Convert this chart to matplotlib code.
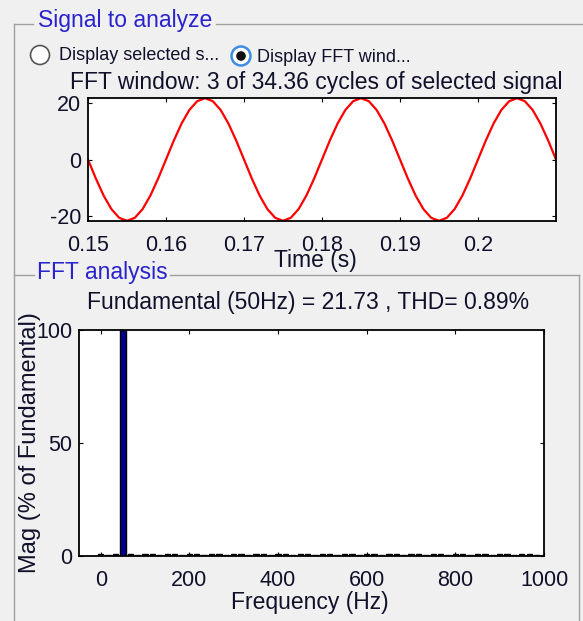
import matplotlib
matplotlib.use('Agg')
import matplotlib.pyplot as plt
import numpy as np
from matplotlib.patches import Circle

# selected signal, FFT window of 3 cycles (0.15 s .. 0.21 s), 1 ms samples
t_start = 0.15
t_step = 0.001
signal = [0, -6.71, -12.77, -17.58, -20.67, -21.73, -20.67, -17.58, -12.77, -6.71,
          0, 6.71, 12.77, 17.58, 20.67, 21.73, 20.67, 17.58, 12.77, 6.71,
          0, -6.71, -12.77, -17.58, -20.67, -21.73, -20.67, -17.58, -12.77, -6.71,
          0, 6.71, 12.77, 17.58, 20.67, 21.73, 20.67, 17.58, 12.77, 6.71,
          0, -6.71, -12.77, -17.58, -20.67, -21.73, -20.67, -17.58, -12.77, -6.71,
          0, 6.71, 12.77, 17.58, 20.67, 21.73, 20.67, 17.58, 12.77, 6.71, 0]

# FFT bins (resolution 50/3 Hz), magnitude in % of fundamental
bin_hz = 50 / 3
mag = [0.7, 0.6, 0.7, 100, 0.7, 0.6, 0.7, 0.7, 0.6, 0.7,
       0.7, 0.6, 0.7, 0.7, 0.6, 0.7, 0.7, 0.6, 0.7, 0.7,
       0.6, 0.7, 0.7, 0.6, 0.7, 0.7, 0.6, 0.7, 0.7, 0.6,
       0.7, 0.7, 0.6, 0.7, 0.7, 0.6, 0.7, 0.7, 0.6, 0.7,
       0.7, 0.6, 0.7, 0.7, 0.6, 0.7, 0.7, 0.6, 0.7, 0.7,
       0.6, 0.7, 0.7, 0.6, 0.7, 0.7, 0.6, 0.7, 0.7, 0.6]

sig_ticks = [0.15, 0.16, 0.17, 0.18, 0.19, 0.2]
sig_ticklabels = ['0.15', '0.16', '0.17', '0.18', '0.19', '0.2']
fft_ticks = [0, 200, 400, 600, 800, 1000]

title_sig = 'FFT window: 3 of 34.36 cycles of selected signal'
title_fft = 'Fundamental (50Hz) = 21.73 , THD= 0.89%'

W, H = 583, 621
plt.rcParams['font.family'] = ['Liberation Sans', 'DejaVu Sans']
plt.rcParams['axes.unicode_minus'] = False
fig = plt.figure(figsize=(W / 100, H / 100), dpi=100)
fig.patch.set_facecolor('#f0f0f0')

txt = '#10102a'
panel_blue = '#2a22cc'


def px_axes(l, t, r, b):
    return fig.add_axes([l / W, 1 - b / H, (r - l) / W, (b - t) / H])


# background layer in pixel coordinates for the GUI frame
bg = fig.add_axes([0, 0, 1, 1], zorder=0)
bg.set_xlim(0, W)
bg.set_ylim(H, 0)
bg.axis('off')

gray = '#a0a0a0'
bg.plot([14, 33], [24, 24], color=gray, lw=1)
bg.plot([216, W], [24, 24], color=gray, lw=1)
bg.plot([14, 14], [24, H], color=gray, lw=1)
bg.plot([14, 34], [275, 275], color=gray, lw=1)
bg.plot([170, 579], [275, 275], color=gray, lw=1)
bg.plot([579, 579], [275, H], color=gray, lw=1)

bg.text(38, 21, 'Signal to analyze', color=panel_blue, fontsize=16.5, va='center', ha='left')
bg.text(37, 273, 'FFT analysis', color=panel_blue, fontsize=16.5, va='center', ha='left')

bg.add_patch(Circle((40, 55), 9.5, facecolor='white', edgecolor='#555555', lw=1.2))
bg.add_patch(Circle((241, 56), 9.5, facecolor='white', edgecolor='#3c8ce6', lw=1.8))
bg.add_patch(Circle((241, 56), 4.8, facecolor='#111111', edgecolor='none'))
bg.text(59, 56, 'Display selected s...', color=txt, fontsize=13, va='center', ha='left')
bg.text(257, 57, 'Display FFT wind...', color=txt, fontsize=13, va='center', ha='left')

bg.text(316, 83, title_sig, color=txt, fontsize=16.5, va='center', ha='center')
bg.text(308, 302, title_fft, color=txt, fontsize=16.5, va='center', ha='center')

# signal axes
ax1 = px_axes(88, 98, 556, 221)
ax1.set_zorder(1)
t = t_start + t_step * np.arange(len(signal))
ax1.plot(t, signal, color='red', lw=1.6)
ax1.set_xlim(0.15, 0.21)
ax1.set_ylim(-21.8, 21.8)
ax1.set_xticks(sig_ticks)
ax1.set_xticklabels(sig_ticklabels)
ax1.set_yticks([-20, 0, 20])
ax1.set_xlabel('Time (s)', fontsize=16.5, color=txt, va='center')
ax1.xaxis.set_label_coords(0.485, -0.325)

# FFT axes
ax2 = px_axes(79, 330, 544, 556)
ax2.set_zorder(1)
freqs = bin_hz * np.arange(len(mag))
ax2.bar(freqs, mag, width=12, color='#00008f', edgecolor='black', linewidth=1)
ax2.set_xlim(-49, 1000)
ax2.set_ylim(0, 100)
ax2.set_xticks(fft_ticks)
ax2.set_yticks([0, 50, 100])
ax2.set_xlabel('Frequency (Hz)', fontsize=16.5, color=txt, va='center')
ax2.xaxis.set_label_coords(0.497, -0.205)
ax2.set_ylabel('Mag (% of Fundamental)', fontsize=17, color=txt, va='center')
ax2.yaxis.set_label_coords(-0.105, 0.5)

for ax in (ax1, ax2):
    ax.set_facecolor('white')
    for s in ax.spines.values():
        s.set_linewidth(1.3)
        s.set_color('black')
    ax.tick_params(direction='in', length=3, width=0.8, top=True, right=True,
                   labelsize=15.5, labelcolor=txt)
    ax.tick_params(axis='x', pad=10)
    ax.tick_params(axis='y', pad=5)

fig.savefig('out.png', dpi=100, facecolor=fig.get_facecolor())
